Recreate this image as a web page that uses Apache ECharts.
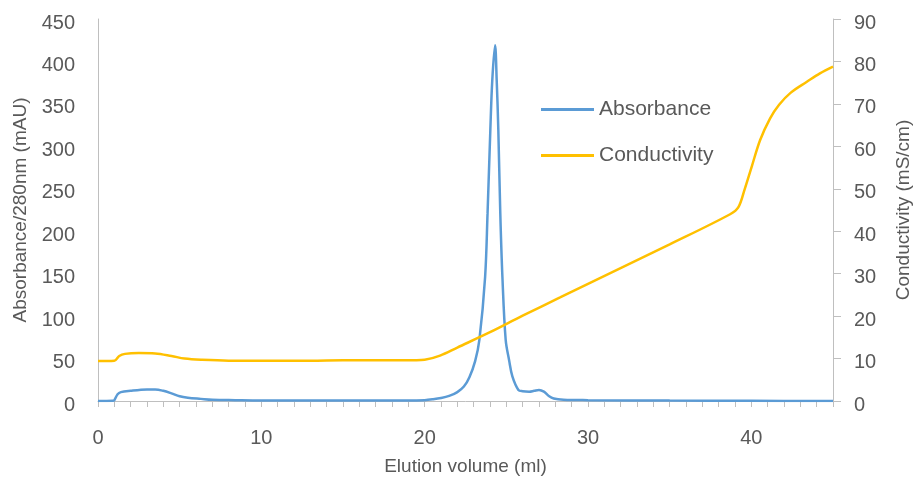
<!DOCTYPE html>
<html><head><meta charset="utf-8">
<script src="https://cdn.jsdelivr.net/npm/echarts@6/dist/echarts.min.js"></script>
<style>html,body{margin:0;padding:0;background:#fff}#c{width:914px;height:482px}</style>
</head><body><div id="c"></div>
<script>
const absX = [0,0.9,1.0,1.2,1.4,2,3,3.5,4,4.5,5,5.5,6.3,7,8.4,10,15,19,20,20.5,21,21.5,22.0,22.4,22.74,23.09,23.35,23.70,23.85,24.02,24.14,24.31,24.41,24.51,24.63,24.76,24.96,25.17,25.37,25.74,26.0,26.4,26.7,27.0,27.3,27.6,27.9,28.5,30,35,40,45];
const absY = [0,0.2,1,8,10.5,12,13.5,13.6,12,9,5.5,3.8,2.5,1.5,1,0.6,0.5,0.5,1,2,3.5,6,10.5,17,28,47,72,146,221,319,378,419,378,319,221,146,72,48,29,13,11.5,11,12,13,11,6,3,1.5,1,0.5,0.2,0];
const condX = [0,1.0,1.3,1.65,2.5,3.5,4.5,5.3,6.35,8,13,15,19.5,20,20.94,22,24,26,28.29,30,35,38.7,39.2,39.6,40.03,40.54,41.15,41.7,42.4,43.4,44.2,45];
const condY = [9.4,9.5,10.6,11.1,11.3,11.2,10.6,10,9.7,9.5,9.5,9.6,9.6,9.7,10.7,12.6,16.2,20.1,24.4,27.6,36.9,44,45.6,50,55.3,61.5,66.6,69.8,72.6,75.2,77.2,78.8];
const xTickLabels = [0,10,20,30,40];
const seriesNames = ['Absorbance','Conductivity'];

const txt = '#595959', axc = '#bfbfbf', font = 'Liberation Sans';
const chart = echarts.init(document.getElementById('c'));
chart.setOption({
  backgroundColor:'#fff',
  animation:false,
  textStyle:{fontFamily:font},
  grid:{left:98,right:81,top:19,bottom:81,outerBoundsMode:'none',containLabel:false},
  legend:{
    orient:'vertical', left:536, top:94, itemWidth:53, itemHeight:14, itemGap:25,
    icon:'path://M0,0L53,0L53,3L0,3Z',
    textStyle:{fontSize:21,color:txt,fontFamily:font},
    data:seriesNames
  },
  xAxis:{
    type:'value', min:0, max:45, interval:1,
    name:'Elution volume (ml)', nameLocation:'middle', nameGap:56,
    nameTextStyle:{fontSize:19,color:txt},
    axisLine:{lineStyle:{color:axc}},
    axisTick:{show:true,length:6,lineStyle:{color:axc}},
    axisLabel:{fontSize:20,color:txt,margin:27,
      formatter:v=>xTickLabels.includes(v)?String(v):''},
    splitLine:{show:false}
  },
  yAxis:[{
    type:'value', min:0, max:450, interval:50,
    name:'Absorbance/280nm (mAU)', nameLocation:'middle', nameGap:64,
    nameTextStyle:{fontSize:19,color:txt},
    axisLine:{show:true,lineStyle:{color:axc}},
    axisTick:{show:false},
    axisLabel:{fontSize:20,color:txt,margin:23,verticalAlign:'top',lineHeight:8},
    splitLine:{show:false}
  },{
    type:'value', min:0, max:90, interval:10, position:'right',
    name:'Conductivity (mS/cm)', nameLocation:'middle', nameGap:61,
    nameTextStyle:{fontSize:19,color:txt},
    axisLine:{show:true,lineStyle:{color:axc}},
    axisTick:{show:true,length:8,lineStyle:{color:axc}},
    axisLabel:{fontSize:20,color:txt,margin:21,verticalAlign:'top',lineHeight:8},
    splitLine:{show:false}
  }],
  series:[{
    name:seriesNames[0], type:'line', yAxisIndex:0, showSymbol:false, smooth:0.35,
    lineStyle:{color:'#5b9bd5',width:2.5}, itemStyle:{color:'#5b9bd5'},
    data:absX.map((x,i)=>[x,absY[i]])
  },{
    name:seriesNames[1], type:'line', yAxisIndex:1, showSymbol:false, smooth:0.35,
    lineStyle:{color:'#ffc000',width:2.5}, itemStyle:{color:'#ffc000'},
    data:condX.map((x,i)=>[x,condY[i]])
  }]
});
</script></body></html>
